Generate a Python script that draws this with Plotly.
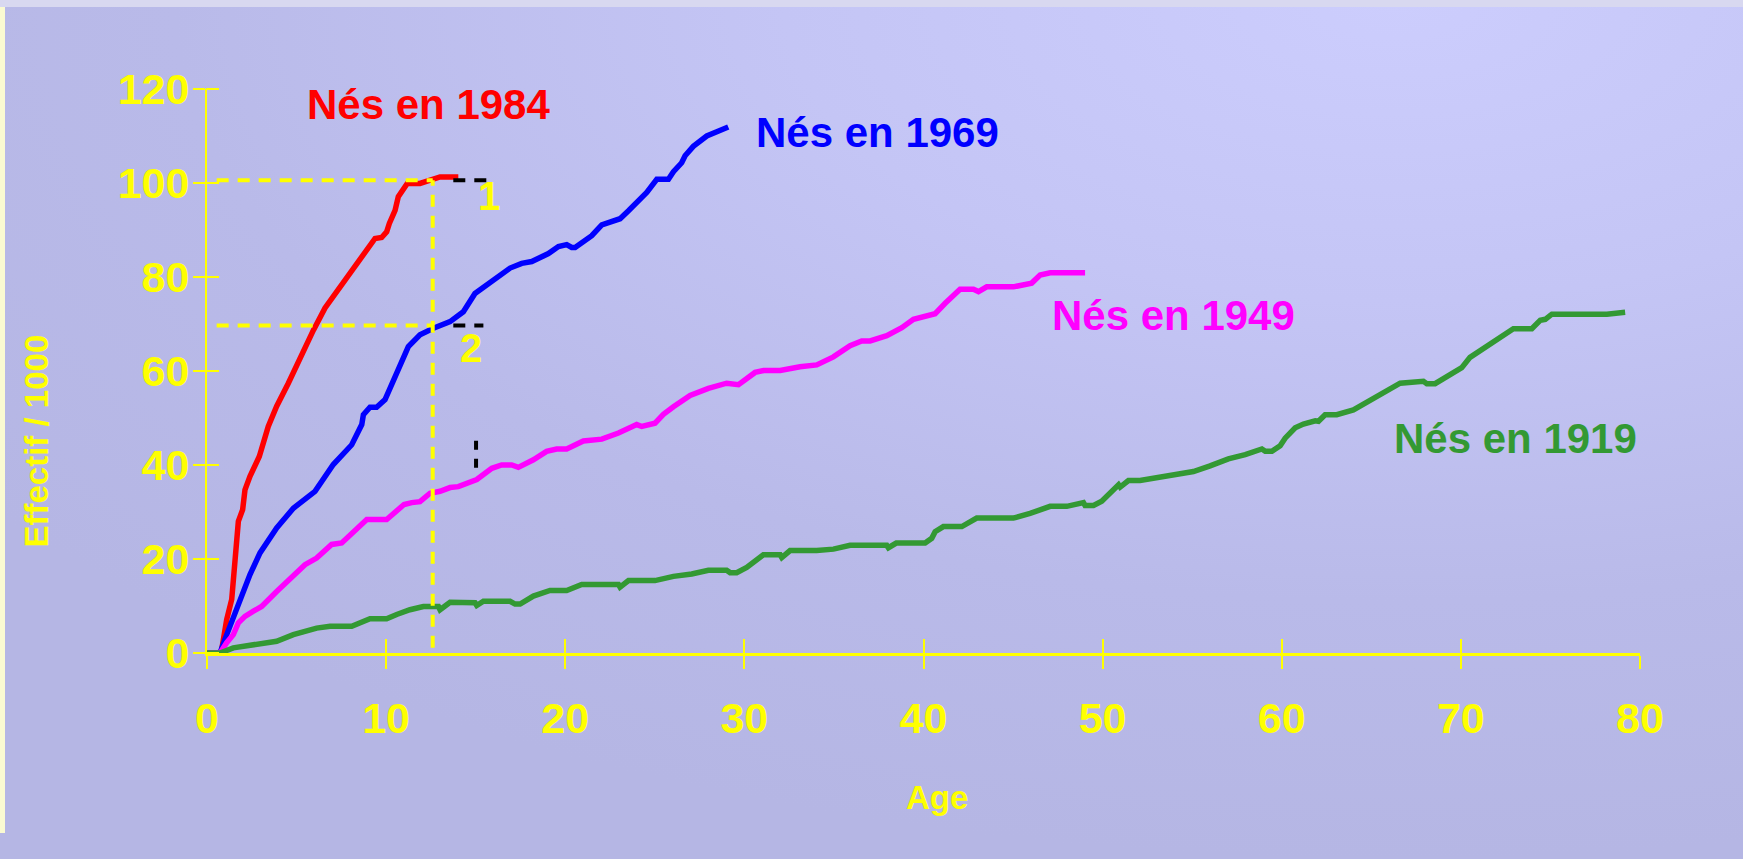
import base64
import plotly.graph_objects as go

# ---------------- data ----------------
ages_1984 = [0, 0.75, 0.82, 1.1, 1.38, 1.56, 1.75, 1.99, 2.12, 2.4, 2.92, 3.42, 3.89, 4.54, 5.19, 5.94,
             6.59, 7.43, 8.17, 8.73, 9.14, 9.38, 9.75, 10.03, 10.18, 10.5, 10.68, 10.96, 11.18, 11.89,
             12.45, 13.01, 14.03]
eff_1984 = [0, 0, 0.7, 7.1, 11.4, 19.9, 28.0, 30.5, 34.7, 37.6, 41.8, 48.2, 52.5, 57.4, 62.7, 68.7,
            73.4, 77.9, 82.2, 85.0, 87.3, 88.2, 88.4, 89.6, 91.4, 94.2, 97.1, 98.8, 99.9, 99.9,
            100.6, 101.3, 101.3]

ages_1969 = [0, 0.73, 1.0, 1.47, 1.93, 2.4, 2.96, 3.89, 4.82, 6.03, 7.05, 8.08, 8.64, 8.73, 9.1, 9.47,
             9.94, 10.22, 10.59, 10.96, 11.24, 11.89, 12.64, 13.57, 14.31, 14.96, 15.99, 16.92, 17.57,
             18.13, 19.06, 19.62, 20.08, 20.36, 20.55, 21.01, 21.48, 22.04, 22.5, 23.06, 23.53, 24.08,
             24.55, 25.11, 25.76, 26.04, 26.5, 26.69, 27.15, 27.9, 29.1]
eff_1969 = [0, 0, 2.9, 7.5, 12.1, 16.7, 21.3, 26.6, 30.8, 34.4, 40.1, 44.3, 48.6, 50.7, 52.3, 52.3,
            53.9, 56.4, 59.5, 63.1, 65.2, 67.7, 69.1, 70.5, 72.6, 76.5, 79.4, 81.9, 82.9,
            83.3, 85.0, 86.5, 86.9, 86.3, 86.3, 87.6, 88.8, 91.1, 91.8, 92.4, 94.1, 96.0,
            98.0, 100.8, 100.8, 102.4, 104.3, 105.8, 107.8, 110.0, 111.9]

ages_1949 = [0, 0.73, 1.1, 1.47, 1.75, 2.12, 2.59, 3.05, 3.89, 4.73, 5.47, 6.12, 6.96, 7.52, 8.17, 8.92,
             10.03, 10.59, 11.0, 11.43, 11.89, 12.45, 13.01, 13.57, 14.03, 15.06, 15.9, 16.45, 17.01,
             17.38, 18.22, 18.96, 19.52, 20.08, 21.01, 22.04, 22.97, 23.99, 24.27, 25.01, 25.48, 26.04,
             26.97, 27.99, 28.73, 29.01, 29.67, 30.04, 30.6, 31.07, 32.0, 33.11, 34.04, 34.97, 35.9,
             36.55, 37.02, 37.95, 38.79, 39.44, 40.18, 40.65, 41.21, 42.04, 42.79, 43.07, 43.53, 45.02,
             46.04, 46.51, 47.07, 49.02]
eff_1949 = [0, 0, 2.2, 3.9, 6.4, 7.8, 8.9, 9.9, 13.1, 16.0, 18.8, 20.2, 23.1, 23.4, 25.9, 28.4,
            28.4, 30.1, 31.6, 32.0, 32.2, 34.0, 34.4, 35.2, 35.4, 36.9, 39.3, 40.0, 40.0,
            39.5, 41.1, 42.9, 43.4, 43.4, 45.1, 45.5, 46.8, 48.6, 48.2, 48.9, 50.8, 52.4,
            54.8, 56.3, 56.9, 57.4, 57.1, 58.0, 59.7, 60.1, 60.1, 60.9, 61.3, 63.0, 65.4,
            66.4, 66.4, 67.5, 69.2, 71.0, 71.8, 72.2, 74.4, 77.4, 77.4, 76.9, 77.9, 77.9,
            78.7, 80.4, 80.9, 80.9]

ages_1919 = [0, 0.73, 1.47, 2.96, 3.89, 4.82, 6.12, 6.87, 8.08, 9.1, 10.03, 10.59, 11.33, 12.08, 12.92,
             13.01, 13.57, 14.96, 15.06, 15.43, 16.92, 17.2, 17.48, 18.22, 19.15, 20.08, 20.92, 22.97,
             23.06, 23.53, 25.01, 26.04, 27.06, 27.99, 29.01, 29.2, 29.57, 30.13, 31.06, 32.0, 32.09,
             32.55, 34.04, 34.97, 35.9, 37.95, 38.04, 38.48, 40.09, 40.46, 40.65, 41.11, 42.14, 42.97,
             45.02, 45.95, 46.51, 47.07, 48.0, 48.93, 49.02, 49.49, 49.95, 50.89, 50.98, 51.44, 52.09,
             53.11, 54.05, 55.07, 56.0, 57.02, 57.96, 58.89, 59.08, 59.45, 59.91, 60.19, 60.75, 61.21,
             61.87, 62.05, 62.42, 63.07, 64.0, 64.93, 65.96, 66.61, 67.91, 68.1, 68.56, 70.05, 70.51,
             71.07, 72.19, 72.93, 73.96, 74.43, 74.71, 75.08, 78.15, 79.17]
eff_1919 = [0, 0, 1.1, 2.1, 2.5, 3.9, 5.3, 5.7, 5.7, 7.3, 7.3, 8.2, 9.2, 9.9, 9.9,
            9.2, 10.8, 10.7, 10.1, 11.0, 11.0, 10.4, 10.4, 12.1, 13.3, 13.3, 14.6, 14.6,
            14.0, 15.4, 15.4, 16.3, 16.8, 17.6, 17.6, 17.1, 17.1, 18.2, 20.9, 20.9, 20.3,
            21.8, 21.8, 22.1, 22.9, 22.9, 22.4, 23.4, 23.4, 24.4, 25.8, 26.9, 26.9, 28.7,
            28.7, 29.7, 30.6, 31.2, 31.2, 32.0, 31.4, 31.4, 32.3, 35.8, 35.3, 36.7, 36.7,
            37.4, 37.8, 38.6, 39.8, 41.3, 42.2, 43.4, 42.9, 42.9, 44.1, 45.7, 47.9, 48.7,
            49.4, 49.3, 50.7, 50.7, 51.7, 53.7, 56.0, 57.4, 57.8, 57.3, 57.3, 60.7, 62.9,
            64.3, 66.8, 69.0, 69.0, 70.8, 71.0, 72.1, 72.1, 72.5]

series_names = ["Nés en 1984", "Nés en 1969", "Nés en 1949", "Nés en 1919"]
series_x = [ages_1984, ages_1969, ages_1949, ages_1919]
series_y = [eff_1984, eff_1969, eff_1949, eff_1919]
series_colors = ["#FF0000", "#0000FF", "#FF00FF", "#339933"]
label_x = [12.37, 37.42, 53.95, 73.03]
label_y = [116.6, 110.7, 71.75, 45.6]

# reading guides
guide_level_1 = 100.6
guide_level_2 = 69.7
guide_age = 12.6
guide_start = 0.54
marker_1_end = 16.08
marker_2_end = 15.43
black_start = 13.75
vmark_x = 15.02
vmark_y = [39.4, 45.7]

x_ticks = [0, 10, 20, 30, 40, 50, 60, 70, 80]
y_ticks = [0, 20, 40, 60, 80, 100, 120]

# ---------------- layout geometry ----------------
W, H = 1743, 859
ML, MR, MT, MB = 207, 103, 89, 206
PW, PH = W - ML - MR, H - MT - MB
FONT = "Liberation Sans, Arial, sans-serif"
YEL = "#FFFF00"
TICK_HALF = 12

fig = go.Figure()

for xs, ys, c, n in zip(series_x, series_y, series_colors, series_names):
    fig.add_trace(go.Scatter(x=xs, y=ys, mode="lines", name=n, showlegend=False,
                             line=dict(color=c, width=5.5), hoverinfo="skip"))

dash = "12px,9px"
yl = dict(color=YEL, width=4, dash=dash)
bl = dict(color="#000000", width=4, dash=dash)
fig.add_trace(go.Scatter(x=[guide_start, guide_age], y=[guide_level_1] * 2, mode="lines", line=yl, showlegend=False))
fig.add_trace(go.Scatter(x=[guide_start, guide_age], y=[guide_level_2] * 2, mode="lines", line=yl, showlegend=False))
fig.add_trace(go.Scatter(x=[guide_age, guide_age], y=[1.1, guide_level_1], mode="lines", line=yl, showlegend=False))
fig.add_trace(go.Scatter(x=[black_start, marker_1_end], y=[guide_level_1] * 2, mode="lines", line=bl, showlegend=False))
fig.add_trace(go.Scatter(x=[black_start, marker_2_end], y=[guide_level_2] * 2, mode="lines", line=bl, showlegend=False))
fig.add_trace(go.Scatter(x=[vmark_x, vmark_x], y=vmark_y, mode="lines", line=dict(color="#000000", width=4, dash="9px,9px"), showlegend=False))

# dummy traces so the overlay axes (inner half of the crossing ticks) get drawn
fig.add_trace(go.Scatter(x=[None], y=[None], xaxis="x2", yaxis="y", showlegend=False, hoverinfo="skip"))
fig.add_trace(go.Scatter(x=[None], y=[None], xaxis="x", yaxis="y2", showlegend=False, hoverinfo="skip"))

for n, c, lx, ly in zip(series_names, series_colors, label_x, label_y):
    fig.add_annotation(x=lx, y=ly, text=f"<b>{n}</b>", showarrow=False,
                       font=dict(family=FONT, size=42, color=c), xanchor="center", yanchor="middle")

fig.add_annotation(x=15.75, y=97.3, text="<b>1</b>", showarrow=False,
                   font=dict(family=FONT, size=40, color=YEL))
fig.add_annotation(x=14.76, y=64.9, text="<b>2</b>", showarrow=False,
                   font=dict(family=FONT, size=40, color=YEL))

fig.add_annotation(xref="paper", yref="paper", x=(936.7 - ML) / PW, y=(H - MB - 818) / PH,
                   text="<b>Age</b>", showarrow=False, font=dict(family=FONT, size=33, color=YEL))
fig.add_annotation(xref="paper", yref="paper", x=(15 - ML) / PW, y=(H - MB - 441) / PH,
                   text="<b>Effectif / 1000</b>", textangle=-90, showarrow=False,
                   font=dict(family=FONT, size=33, color=YEL))

# background gradient
svg = f"""<svg xmlns='http://www.w3.org/2000/svg' width='{W}' height='{H}' viewBox='0 0 {W} {H}' preserveAspectRatio='none'>
<defs><radialGradient id='g' cx='0.8' cy='0' r='1' gradientUnits='objectBoundingBox'>
<stop offset='0' stop-color='#CCCDFD'/><stop offset='0.35' stop-color='#C4C5F5'/>
<stop offset='0.7' stop-color='#B9BAE9'/><stop offset='1' stop-color='#B5B6E4'/></radialGradient></defs>
<rect width='{W}' height='{H}' fill='url(#g)'/>
<rect width='{W}' height='7' fill='#D8D8F0'/>
<rect y='7' width='5' height='826' fill='#FAFAD2'/>
</svg>"""
src = "data:image/svg+xml;base64," + base64.b64encode(svg.encode()).decode()
fig.add_layout_image(dict(source=src, xref="paper", yref="paper", x=-ML / PW, y=1 + MT / PH,
                          sizex=W / PW, sizey=H / PH, xanchor="left", yanchor="top",
                          sizing="stretch", layer="below"))

tickfont = dict(family=FONT, size=43, color=YEL, weight="bold")
fig.update_layout(
    width=W, height=H,
    margin=dict(l=ML, r=MR, t=MT, b=MB, pad=0),
    paper_bgcolor="#BBBCEA", plot_bgcolor="rgba(0,0,0,0)",
    xaxis=dict(range=[0, 80], tickvals=x_ticks, ticks="outside", ticklen=13, tickwidth=2,
               tickcolor=YEL, showline=True, linecolor=YEL, linewidth=2.5, showgrid=False,
               zeroline=False, tickfont=tickfont, ticklabelstandoff=13, fixedrange=True),
    yaxis=dict(range=[0, 120], tickvals=y_ticks, ticks="outside", ticklen=TICK_HALF, tickwidth=2,
               tickcolor=YEL, showline=True, linecolor=YEL, linewidth=2, showgrid=False,
               zeroline=False, tickfont=tickfont, ticklabelstandoff=-5, fixedrange=True),
    xaxis2=dict(range=[0, 80], tickvals=x_ticks, ticks="inside", ticklen=14, tickwidth=2,
                tickcolor=YEL, showticklabels=False, showline=False, showgrid=False,
                zeroline=False, overlaying="x", anchor="y", side="bottom", fixedrange=True),
    # second y axis shifted right by the tick half-length: its outside ticks form the inner half
    yaxis2=dict(range=[0, 120], tickvals=y_ticks, ticks="outside", ticklen=TICK_HALF + 1, tickwidth=2,
                tickcolor=YEL, showticklabels=False, showline=False, showgrid=False,
                zeroline=False, overlaying="y", anchor="free", position=TICK_HALF / PW,
                side="left", fixedrange=True),
    showlegend=False,
)

fig.write_html("out.html", config={"displayModeBar": False},
               post_script="document.body.style.margin='0';document.body.style.overflow='hidden';")
